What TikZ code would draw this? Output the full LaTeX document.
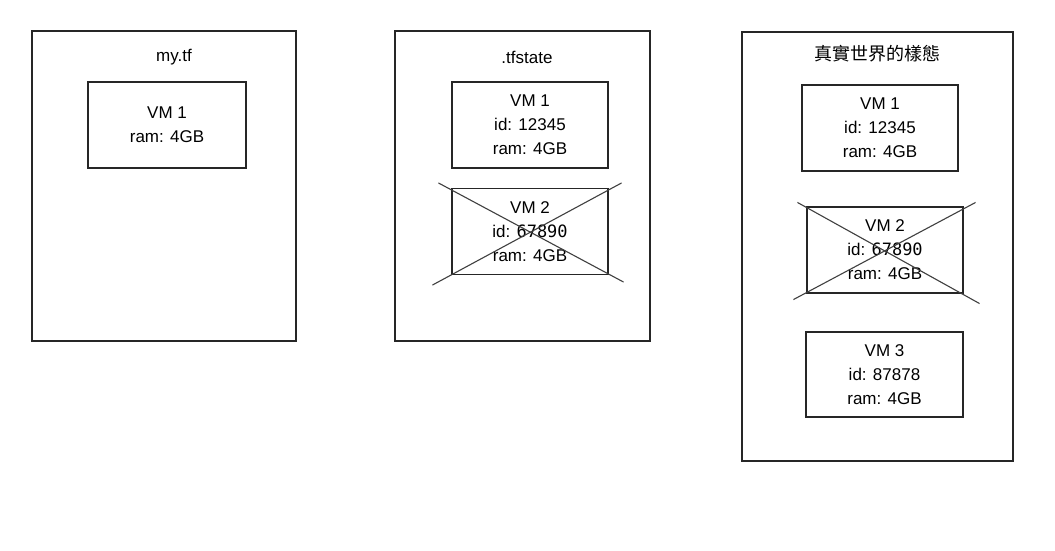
\documentclass[tikz,border=0pt]{standalone}
\usepackage{fontspec}
\setmainfont{Liberation Sans}
\setmonofont{DejaVu Sans Mono}
\newfontfamily\cjk{Noto Sans CJK TC}
\usetikzlibrary{calc}

\tikzset{
  panel/.style={draw=black!85, line width=1.1pt, fill=white},
  vmbox/.style={draw=black!85, line width=1.1pt, align=center,
    minimum width=156pt, minimum height=86pt, inner sep=0pt,
    font=\fontsize{17}{24}\selectfont},
  paneltitle/.style={font=\fontsize{17}{20}\selectfont},
  crossout/.style={black!75, line width=1.1pt}
}

\begin{document}
\begin{tikzpicture}[x=1pt, y=-1pt]
    % canvas
    \useasboundingbox (0,0) rectangle (1055,550);

    % Panel 1: my.tf
    \node[panel, minimum width=264pt, minimum height=310pt] (tf) at (164,186) {};
    \node[paneltitle] (tftitle) at (174,57) {my.tf};
    \node[vmbox, minimum width=158pt] (tfvm1) at (167,125) {VM 1\\ram: 4GB};

    % Panel 2: .tfstate
    \node[panel, minimum width=255pt, minimum height=310pt] (st) at (522.5,186) {};
    \node[paneltitle] (sttitle) at (527,57) {.tfstate};
    \node[vmbox] (stvm1) at (530,125) {VM 1\\id: 12345\\ram: 4GB};
    \node[vmbox] (stvm2) at (530,231.5) {VM 2\\id: \texttt{67890}\\ram: 4GB};

    % Crossed out (state)
    \draw[crossout] ($(stvm2.south west)+(-19,10)$) -- ($(stvm2.north east)+(13,-5)$);
    \draw[crossout] ($(stvm2.north west)+(-13,-5)$) -- ($(stvm2.south east)+(15,7)$);

    % Panel 3: real world
    \node[panel, minimum width=271pt, minimum height=429pt] (rw) at (877.5,246.5) {};
    \node[paneltitle, font=\cjk\fontsize{18}{20}\selectfont] (rwtitle) at (877,54) {真實世界的樣態};
    \node[vmbox] (rwvm1) at (880,128) {VM 1\\id: 12345\\ram: 4GB};
    \node[vmbox] (rwvm2) at (885,250) {VM 2\\id: \texttt{67890}\\ram: 4GB};
    \node[vmbox, minimum width=157pt, minimum height=85pt] (rwvm3) at (884.5,374.5) {VM 3\\id: 87878\\ram: 4GB};

    % Crossed out (real world)
    \draw[crossout] ($(rwvm2.south west)+(-13,6)$) -- ($(rwvm2.north east)+(12,-4)$);
    \draw[crossout] ($(rwvm2.north west)+(-9,-4)$) -- ($(rwvm2.south east)+(16,10)$);
\end{tikzpicture}
\end{document}
